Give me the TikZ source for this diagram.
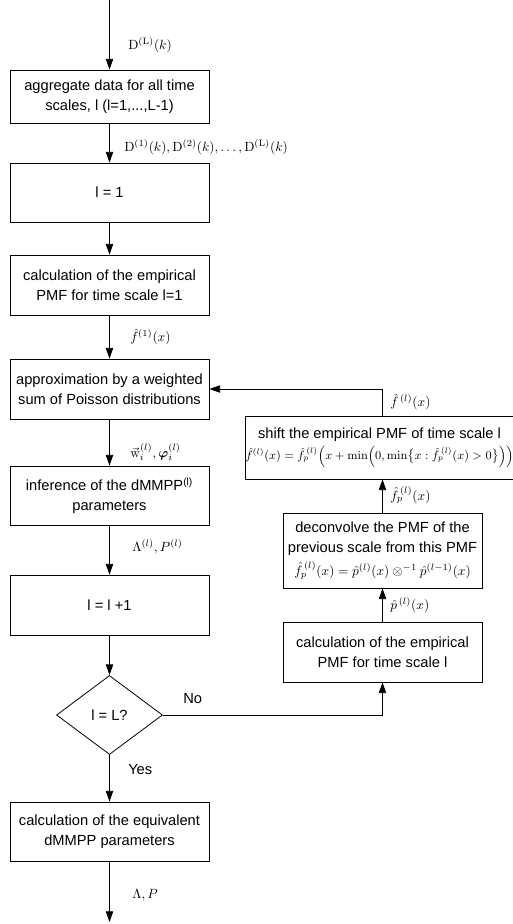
\documentclass[tikz,border=0pt]{standalone}
\usepackage{amsmath}
\usepackage[no-math]{fontspec}
\setmainfont{Liberation Sans}
\usetikzlibrary{shapes.geometric,arrows.meta}
\begin{document}
\begin{tikzpicture}[x=0.75pt,y=-0.75pt,
 box/.style={draw, line width=0.6pt, align=center, inner sep=0pt, font=\fontsize{11}{15}\selectfont},
 arr/.style={-{Triangle[length=8pt,width=5.5pt]}, line width=0.6pt},
 lab/.style={anchor=west, inner sep=0pt, font=\fontsize{10}{12}\selectfont},
 txt/.style={anchor=west, inner sep=0pt, font=\fontsize{11}{13}\selectfont}]
\useasboundingbox (0,0) rectangle (513,924);
% main column
\node[box, minimum width={199*0.75pt}, minimum height={53*0.75pt}] (A) at (109.5,96.5) {aggregate data for all time\\scales, l (l=1,...,L-1)};
\node[box, minimum width={199*0.75pt}, minimum height={59*0.75pt}] (B) at (109.5,192.5) {l = 1};
\node[box, minimum width={199*0.75pt}, minimum height={60*0.75pt}] (C) at (109.5,285) {calculation of the empirical\\PMF for time scale l=1};
\node[box, minimum width={199*0.75pt}, minimum height={60*0.75pt}] (D) at (109.5,389) {approximation by a weighted\\sum of Poisson distributions};
\node[box, minimum width={199*0.75pt}, minimum height={59*0.75pt}] (E) at (109.5,495.5) {inference of the dMMPP\textsuperscript{(l)}\\parameters};
\node[box, minimum width={199*0.75pt}, minimum height={60*0.75pt}] (F) at (109.5,605) {l = l +1};
\node[box, diamond, aspect=1.34, minimum width={106*0.75pt}, minimum height={79*0.75pt}] (G) at (109.5,715) {l = L?};
\node[box, minimum width={199*0.75pt}, minimum height={59*0.75pt}] (H) at (109.5,831.5) {calculation of the equivalent\\dMMPP parameters};
% right column
\node[box, minimum width={199*0.75pt}, minimum height={60*0.75pt}] (R1) at (382.5,652) {calculation of the empirical\\PMF for time scale l};
\node[box, minimum width={199*0.75pt}, minimum height={75*0.75pt}] (R2) at (382.5,550.5) {deconvolve the PMF of the\\previous scale from this PMF\\[2pt]
 {\fontsize{10}{12}\selectfont$\hat{f}_{p}^{\,(l)}(x)=\hat{p}^{(l)}(x)\otimes^{-1}\hat{p}^{(l-1)}(x)$}};
\node[box, minimum width={261*0.75pt}, minimum height={63*0.75pt}] (R3) at (379.5,447.5) {shift the empirical PMF of time scale l\\[1pt]
 {\fontsize{8.6}{11}\selectfont$\hat{f}^{(l)}(x)=\hat{f}_{p}^{\,(l)}\Bigl(x+\min\Bigl(0,\min\bigl\{x:\hat{f}_{p}^{\,(l)}(x)>0\bigr\}\Bigr)\Bigr)$}};
% connectors
\coordinate (S) at (109.5,0);
\coordinate (T) at (109.5,922);
\draw[arr] (S) -- (A.north);
\draw[arr] (A.south) -- (B.north);
\draw[arr] (B.south) -- (C.north);
\draw[arr] (C.south) -- (D.north);
\draw[arr] (D.south) -- (E.north);
\draw[arr] (E.south) -- (F.north);
\draw[arr] (F.south) -- (G.north);
\draw[arr] (G.south) -- (H.north);
\draw[arr] (H.south) -- (T);
\draw[arr] (G.east) -| (R1.south);
\draw[arr] (R1.north) -- (R2.south);
\draw[arr] (R2.north) -- (R2.north |- R3.south);
\draw[arr] (R2.north |- R3.north) -- (R2.north |- D.east) -- (D.east);
% labels
\node[lab] at (128,45) {$\mathrm{D}^{(\mathrm{L})}(k)$};
\node[lab] at (124,147) {$\mathrm{D}^{(1)}(k),\mathrm{D}^{(2)}(k),\ldots,\mathrm{D}^{(\mathrm{L})}(k)$};
\node[lab] at (130,337) {$\hat{f}^{(1)}(x)$};
\node[lab] at (130,452) {$\vec{\mathrm{w}}_{i}^{(l)},\boldsymbol{\varphi}_{i}^{(l)}$};
\node[lab] at (132,547) {$\Lambda^{(l)},P^{(l)}$};
\node[lab] at (132,895) {$\Lambda,P$};
\node[lab] at (390,402) {$\hat{f}^{\,(l)}(x)$};
\node[lab] at (390,495) {$\hat{f}_{p}^{\,(l)}(x)$};
\node[lab] at (390,605) {$\hat{p}^{\,(l)}(x)$};
\node[txt] at (183,699) {No};
\node[txt] at (128,770) {Yes};
\end{tikzpicture}
\end{document}
